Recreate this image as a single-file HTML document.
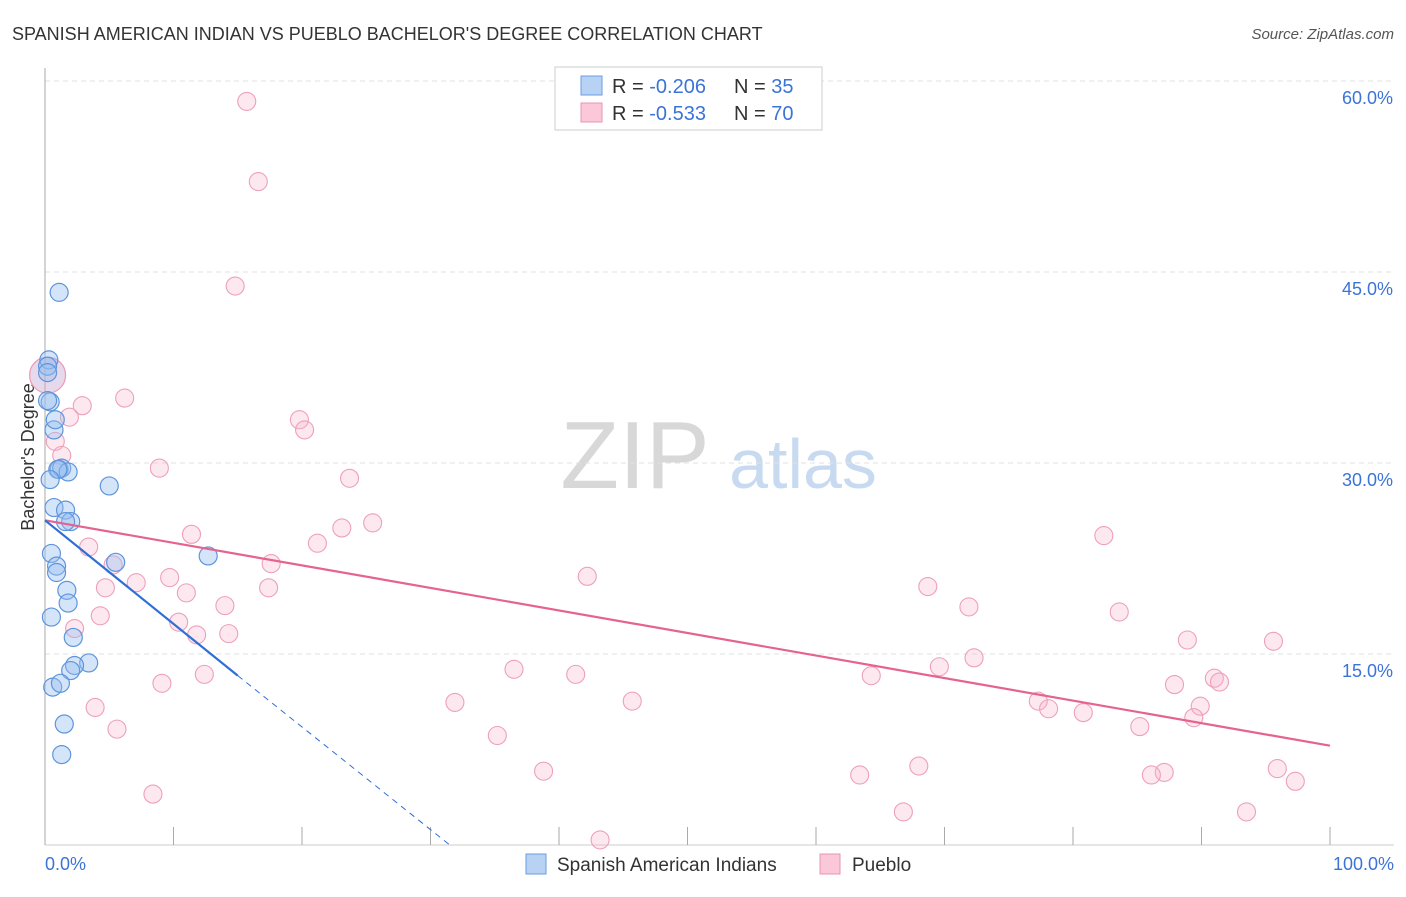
<!DOCTYPE html>
<html><head><meta charset="utf-8"><style>
body{margin:0;background:#fff;font-family:"Liberation Sans",sans-serif}
svg text{font-family:"Liberation Sans",sans-serif}
</style></head><body>
<svg id="chart" width="1406" height="892" xmlns="http://www.w3.org/2000/svg">
<text x="12" y="40" font-size="18" fill="#333">SPANISH AMERICAN INDIAN VS PUEBLO BACHELOR'S DEGREE CORRELATION CHART</text>
<text x="1394" y="39" font-size="15" fill="#555" text-anchor="end" font-style="italic">Source: ZipAtlas.com</text>
<g>
<text x="635" y="488" font-size="96" fill="#d8d8d8" text-anchor="middle" font-family="Liberation Serif,serif">ZIP</text>
<text x="803" y="488" font-size="70" fill="#c8daf0" text-anchor="middle">atlas</text>
</g>
<g id="grid"></g>
<g id="axes"></g>
<text transform="translate(34,457) rotate(-90)" font-size="18" fill="#333" text-anchor="middle">Bachelor's Degree</text>
<g id="marks"></g>
<g id="lines"></g>
<g>
<rect x="555" y="67" width="267" height="63" fill="#fff" stroke="#ccc"/>
<rect x="581" y="76" width="21" height="19" fill="#b8d2f4" stroke="#6a9de0"/>
<rect x="581" y="103" width="21" height="19" fill="#fac8d8" stroke="#e896b2"/>
<text x="612" y="93" font-size="20" fill="#333">R = <tspan fill="#3b74d6">-0.206</tspan><tspan x="734">N = </tspan><tspan fill="#3b74d6">35</tspan></text>
<text x="612" y="120" font-size="20" fill="#333">R = <tspan fill="#3b74d6">-0.533</tspan><tspan x="734">N = </tspan><tspan fill="#3b74d6">70</tspan></text>
</g>
<g>
<rect x="526" y="854" width="20" height="20" fill="#b8d2f4" stroke="#6a9de0"/>
<text x="557" y="871" font-size="19" fill="#333">Spanish American Indians</text>
<rect x="820" y="854" width="20" height="20" fill="#fac8d8" stroke="#e896b2"/>
<text x="852" y="871" font-size="19" fill="#333">Pueblo</text>
</g>
</svg>
<script>
const yTicks=[15,30,45,60];
const yTickLabels=["15.0%","30.0%","45.0%","60.0%"];
const xTicks=[0,10,20,30,40,50,60,70,80,90,100];
const blueX=[1.1,0.3,0.2,0.2,0.4,0.2,0.7,0.8,1.1,1.3,1.8,1.0,0.4,5.0,0.7,1.6,2.0,1.6,0.5,0.9,0.9,5.5,12.7,1.7,1.8,2.2,0.5,3.4,2.3,2.0,0.6,1.2,1.5,1.3];
const blueY=[43.4,38.1,37.6,37.1,34.8,34.9,32.6,33.4,29.5,29.6,29.3,29.5,28.7,28.2,26.5,26.3,25.4,25.4,22.9,21.9,21.4,22.2,22.7,20.0,19.0,16.3,17.9,14.3,14.1,13.7,12.4,12.7,9.5,7.1];
const pinkX=[15.7,16.6,14.8,6.2,2.9,1.9,19.8,20.2,0.8,1.3,8.9,23.7,25.5,23.1,82.4,11.4,21.2,3.4,17.6,5.3,42.2,9.7,7.1,4.7,17.4,68.7,11.0,71.9,83.6,4.3,14.0,10.4,2.3,11.8,14.3,88.9,95.6,72.3,36.5,69.6,41.3,12.4,64.3,91.0,91.4,9.1,87.9,31.9,45.7,77.3,78.1,89.9,80.8,3.9,89.4,85.2,5.6,35.2,38.8,63.4,68.0,87.1,86.1,95.9,97.3,8.4,66.8,93.5,43.2];
const pinkY=[58.4,52.1,43.9,35.1,34.5,33.6,33.4,32.6,31.7,30.6,29.6,28.8,25.3,24.9,24.3,24.4,23.7,23.4,22.1,22.0,21.1,21.0,20.6,20.2,20.2,20.3,19.8,18.7,18.3,18.0,18.8,17.5,17.0,16.5,16.6,16.1,16.0,14.7,13.8,14.0,13.4,13.4,13.3,13.1,12.8,12.7,12.6,11.2,11.3,11.3,10.7,10.9,10.4,10.8,10.0,9.3,9.1,8.6,5.8,5.5,6.2,5.7,5.5,6.0,5.0,4.0,2.6,2.6,0.4];
const pinkTrend=[25.5,7.8];
const blueTrend=[25.5,13.3,15];
const blueDashEnd=31.5;
const X=v=>45+v*12.85, Y=v=>845-v*12.733;
const NS="http://www.w3.org/2000/svg";
function mk(tag,attrs,parent){const e=document.createElementNS(NS,tag);for(const k in attrs)e.setAttribute(k,attrs[k]);document.getElementById(parent).appendChild(e);return e;}
yTicks.forEach((t,i)=>{
 const l=mk('line',{x1:45,x2:1394,y1:Y(t),y2:Y(t),stroke:'#e0e0e0','stroke-dasharray':'5,4'},'grid');
 
 
 const tx=mk('text',{x:1393,y:Y(t)+23,'font-size':18,fill:'#3b74d6','text-anchor':'end'},'axes');
 tx.textContent=yTickLabels[i];
 
 
});
const ax=mk('line',{x1:45,x2:45,y1:68,y2:845,stroke:'#aaa'},'axes');


const bx=mk('line',{x1:45,x2:1394,y1:845,y2:845,stroke:'#ccc'},'axes');


xTicks.forEach(t=>{
 const l=mk('line',{x1:X(t),x2:X(t),y1:827,y2:845,stroke:'#aaa'},'axes');
 
 
});
[["0.0%",45,'start'],["100.0%",1394,'end']].forEach(a=>{
 const tx=mk('text',{x:a[1],y:870,'font-size':18,fill:'#3b74d6','text-anchor':a[2]},'axes');
 tx.textContent=a[0];
 
 
});
pinkX.forEach((x,i)=>{
 const c=mk('circle',{cx:X(x),cy:Y(pinkY[i]),r:9,fill:'rgba(248,180,205,0.3)',stroke:'#eda0ba','stroke-width':1.1},'marks');
 
 
});
const big=mk('circle',{cx:X(0.2),cy:Y(36.9),r:18,fill:'rgba(200,170,210,0.45)',stroke:'#eb9ab6','stroke-width':1.2},'marks');


blueX.forEach((x,i)=>{
 const c=mk('circle',{cx:X(x),cy:Y(blueY[i]),r:9,fill:'rgba(150,190,240,0.4)',stroke:'#5e95dc','stroke-width':1.2},'marks');
 
 
});
const pl=mk('line',{x1:X(0),y1:Y(pinkTrend[0]),x2:X(100),y2:Y(pinkTrend[1]),stroke:'#e4638f','stroke-width':2.2},'lines');


const bl=mk('line',{x1:X(0),y1:Y(blueTrend[0]),x2:X(blueTrend[2]),y2:Y(blueTrend[1]),stroke:'#2f6fd4','stroke-width':2.2},'lines');


const bd=mk('line',{x1:X(blueTrend[2]),y1:Y(blueTrend[1]),x2:X(blueDashEnd),y2:Y(0),stroke:'#2f6fd4','stroke-width':1,'stroke-dasharray':'6,5'},'lines');


</script>
</body></html>
